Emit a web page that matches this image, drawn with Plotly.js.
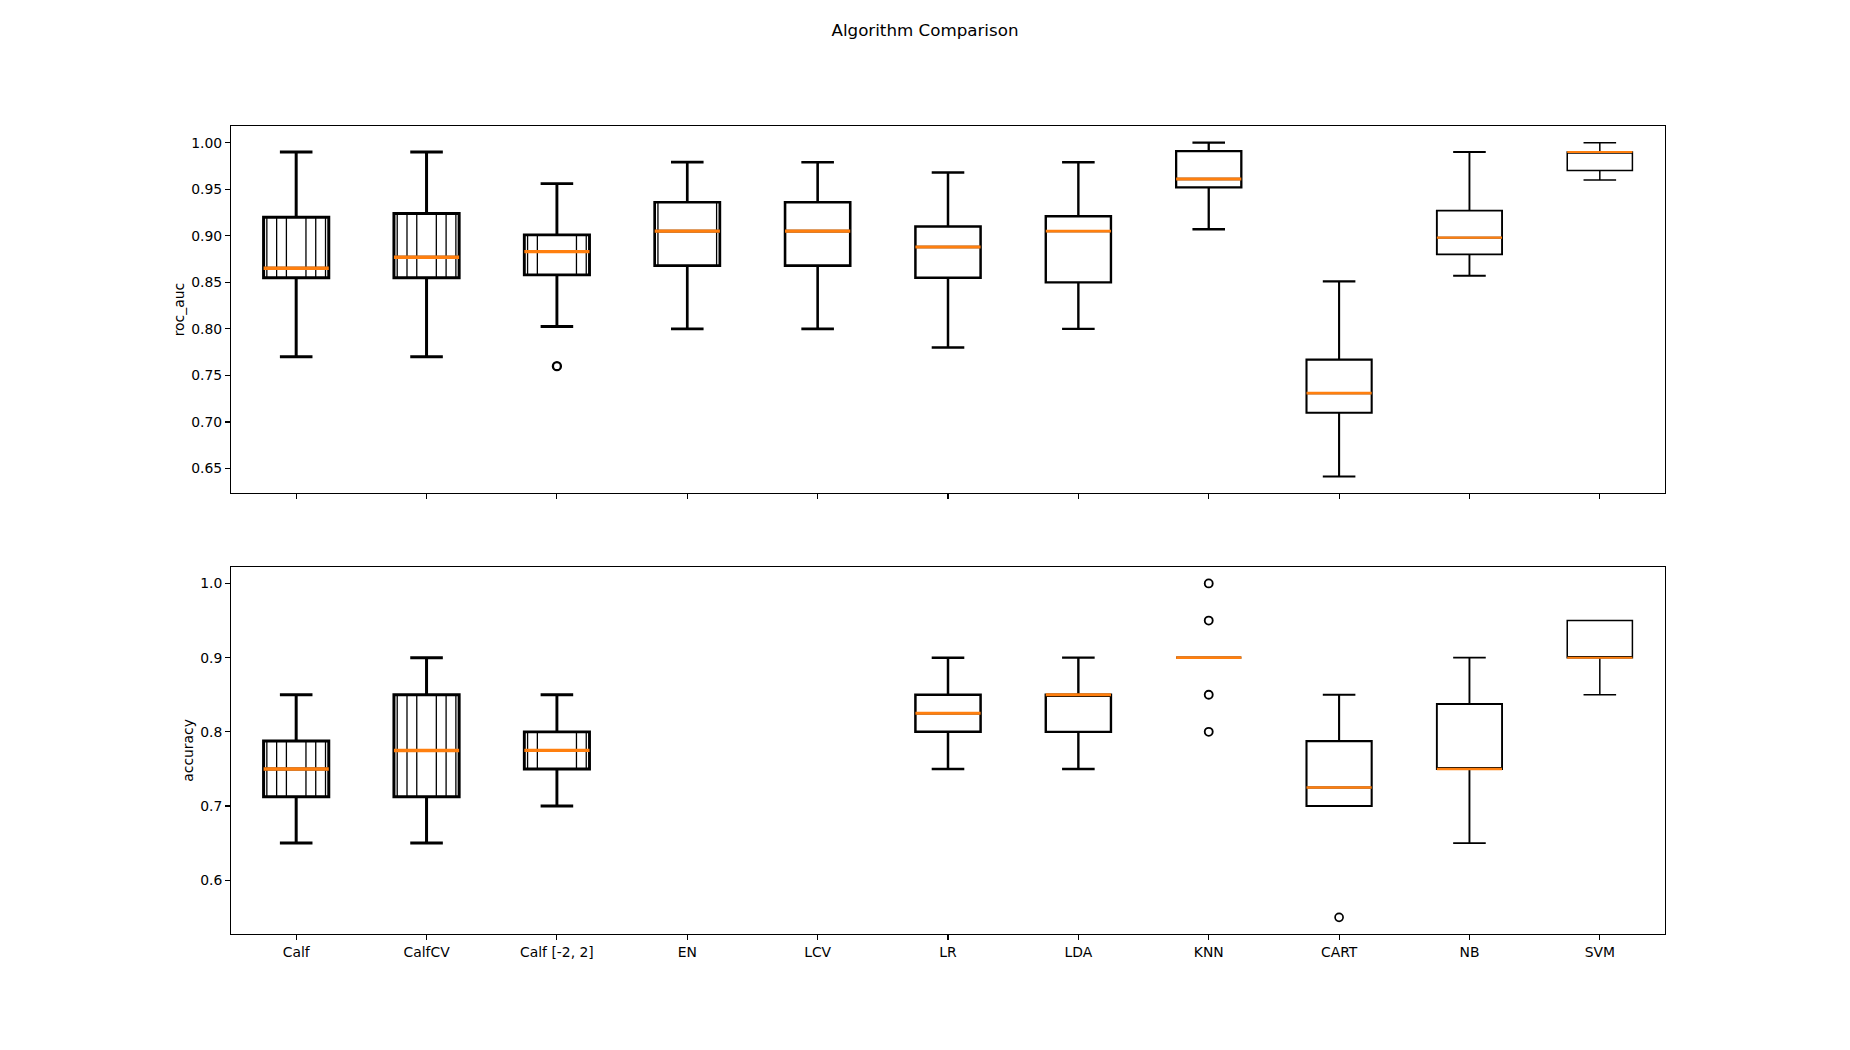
<!DOCTYPE html>
<html>
<head>
<meta charset="utf-8">
<script src="https://cdn.plot.ly/plotly-3.0.1.min.js"></script>
<style>html,body{margin:0;padding:0;background:#fff;}#chart{width:1850px;height:1050px;}</style>
</head>
<body>
<div id="chart"></div>
<script>
// ---------- data ----------
const categories = ["Calf", "CalfCV", "Calf [-2, 2]", "EN", "LCV", "LR", "LDA", "KNN", "CART", "NB", "SVM"];
const positions = [1, 2, 3, 4, 5, 6, 7, 8, 9, 10, 11];

// roc_auc panel (box statistics)
const rocLower  = [0.770, 0.770, 0.8025, 0.800, 0.800, 0.780, 0.800, 0.907, 0.6415, 0.857, 0.960];
const rocQ1     = [0.855, 0.855, 0.858, 0.868, 0.868, 0.855, 0.850, 0.952, 0.710, 0.880, 0.970];
const rocMedian = [0.865, 0.877, 0.883, 0.905, 0.905, 0.888, 0.905, 0.961, 0.731, 0.898, 0.990];
const rocQ3     = [0.920, 0.924, 0.901, 0.936, 0.936, 0.910, 0.921, 0.991, 0.767, 0.927, 0.990];
const rocUpper  = [0.990, 0.990, 0.956, 0.979, 0.979, 0.968, 0.979, 1.000, 0.851, 0.990, 1.000];
const rocOutliers = [[], [], [0.76], [], [], [], [], [], [], [], []];

// accuracy panel (EN and LCV have no accuracy results)
const accLower  = [0.650, 0.650, 0.700, null, null, 0.750, 0.750, 0.900, 0.700, 0.650, 0.850];
const accQ1     = [0.7125, 0.7125, 0.750, null, null, 0.800, 0.800, 0.900, 0.700, 0.750, 0.900];
const accMedian = [0.750, 0.775, 0.775, null, null, 0.825, 0.850, 0.900, 0.725, 0.750, 0.900];
const accQ3     = [0.7875, 0.850, 0.800, null, null, 0.850, 0.850, 0.900, 0.7875, 0.8375, 0.950];
const accUpper  = [0.850, 0.900, 0.850, null, null, 0.900, 0.900, 0.900, 0.850, 0.900, 0.950];
const accOutliers = [[], [], [], [], [], [], [], [1.00, 0.95, 0.85, 0.80], [0.55], [], []];

// ---------- style ----------
// box widths used by each successive redraw of the figure (in x units)
const drawWidths = [0.15, 0.15, 0.3, 0.45, 0.5, 0.5, 0.5, 0.5, 0.5, 0.5, 0.5];
const boxLineWidths = [3.0, 3.0, 2.9, 2.7, 2.6, 2.5, 2.4, 2.3, 2.1, 1.9, 1.5];
const medianColor = "#ff7f0e";
const FONT = "DejaVu Sans, sans-serif";

function panelTraces(lower, q1, med, q3, upper, outliers, xa, ya) {
  const boxes = [], medians = [], points = [];
  categories.forEach((c, i) => {
    if (med[i] === null) return;
    const widths = Array.from(new Set(drawWidths.slice(i))).sort((a, b) => a - b);
    widths.forEach(w => {
      const main = (w === 0.5);
      boxes.push({
        type: "box", xaxis: xa, yaxis: ya, name: c, showlegend: false, hoverinfo: "skip",
        x: [positions[i]], q1: [q1[i]], median: [med[i]], q3: [q3[i]],
        lowerfence: [lower[i]], upperfence: [upper[i]],
        width: w, whiskerwidth: main ? 0.5 : 0,
        boxpoints: false,
        fillcolor: "rgba(0,0,0,0)",
        line: {color: "black", width: main ? boxLineWidths[i] : 1.3}
      });
    });
    medians.push({
      type: "box", xaxis: xa, yaxis: ya, name: c, showlegend: false, hoverinfo: "skip",
      x: [positions[i]], q1: [med[i]], median: [med[i]], q3: [med[i]],
      lowerfence: [med[i]], upperfence: [med[i]],
      width: 0.5, whiskerwidth: 0, boxpoints: false,
      fillcolor: "rgba(0,0,0,0)",
      line: {color: medianColor, width: boxLineWidths[i] + 0.5}
    });
    if (outliers[i].length) {
      points.push({
        type: "scatter", mode: "markers", xaxis: xa, yaxis: ya, showlegend: false, hoverinfo: "skip",
        x: outliers[i].map(() => positions[i]), y: outliers[i],
        marker: {symbol: "circle-open", size: 8, color: "black", line: {width: Math.max(1.6, boxLineWidths[i] * 0.8), color: "black"}}
      });
    }
  });
  return boxes.concat(medians, points);
}

const data = panelTraces(rocLower, rocQ1, rocMedian, rocQ3, rocUpper, rocOutliers, "x", "y")
  .concat(panelTraces(accLower, accQ1, accMedian, accQ3, accUpper, accOutliers, "x2", "y2"));

const axisCommon = {
  showline: true, mirror: true, linecolor: "black", linewidth: 1.1,
  ticks: "outside", ticklen: 4.9, tickwidth: 1.1, tickcolor: "black",
  showgrid: false, zeroline: false,
  tickfont: {family: FONT, size: 13.9, color: "black"}
};

const layout = {
  width: 1850, height: 1050,
  paper_bgcolor: "white", plot_bgcolor: "white",
  margin: {l: 231, r: 185, t: 126, b: 115.5},
  boxmode: "overlay",
  showlegend: false,
  title: {text: "Algorithm Comparison", x: 0.5, xanchor: "center", xref: "container",
          y: 0.977, yanchor: "top", yref: "container",
          font: {family: FONT, size: 16.7, color: "black"}},
  xaxis: Object.assign({}, axisCommon, {domain: [0, 1], anchor: "y", range: [0.5, 11.5],
          tickmode: "array", tickvals: positions, ticktext: categories, showticklabels: false}),
  yaxis: Object.assign({}, axisCommon, {domain: [0.5455, 1], anchor: "x", range: [0.6235, 1.0179],
          tick0: 0, dtick: 0.05, tickformat: ".2f",
          title: {text: "roc_auc", font: {family: FONT, size: 13.9, color: "black"}, standoff: 3}}),
  xaxis2: Object.assign({}, axisCommon, {domain: [0, 1], anchor: "y2", range: [0.5, 11.5],
          tickmode: "array", tickvals: positions, ticktext: categories, showticklabels: true}),
  yaxis2: Object.assign({}, axisCommon, {domain: [0, 0.4545], anchor: "x2", range: [0.5275, 1.0225],
          tick0: 0, dtick: 0.1, tickformat: ".1f",
          title: {text: "accuracy", font: {family: FONT, size: 13.9, color: "black"}, standoff: 3}})
};

Plotly.newPlot("chart", data, layout, {displayModeBar: false, staticPlot: true});
</script>
</body>
</html>
